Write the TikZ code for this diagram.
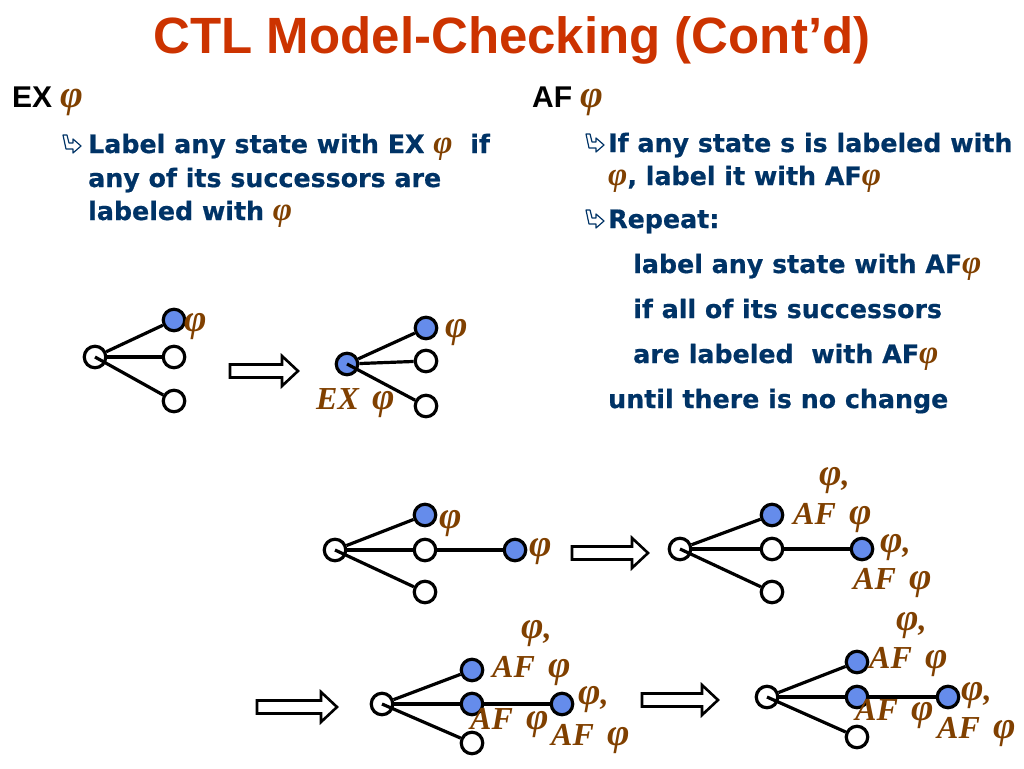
\documentclass[tikz,border=0pt]{standalone}
\usepackage{fontspec}
\setmainfont{Liberation Sans}
\newfontfamily\bodyfont{DejaVu Sans}[BoldFeatures={FakeBold=0.6}]
\newfontfamily\phifont{Liberation Serif}
\definecolor{titlered}{HTML}{CC3300}
\definecolor{navy}{HTML}{003366}
\definecolor{phibrown}{HTML}{804000}
\definecolor{nodeblue}{HTML}{658CEB}
\newcommand\ph{{\phifont\bfseries\itshape\color{phibrown}\scalebox{1.3}{φ}}}
\newcommand\lph{\scalebox{1.2}{φ}}
\newcommand\hookbullet[2]{\draw[navy,line width=1.2pt,line join=round,shift={(#1,#2)}]
  (0,0) -- (4,0) -- (6,8) -- (10,8) -- (10,4) -- (18,11) -- (10,18) -- (10,14) -- (3,14) -- cycle;}
\newcommand\fatarrow[3]{\draw[bigarrow] (#1,#3-6.5) -- (#2-16,#3-6.5) -- (#2-16,#3-15) -- (#2,#3)
  -- (#2-16,#3+15) -- (#2-16,#3+6.5) -- (#1,#3+6.5) -- cycle;}
\tikzset{
  st/.style={circle,draw,line width=3.2pt,minimum size=21.5pt,inner sep=0pt,fill=white},
  bl/.style={st,fill=nodeblue},
  edge/.style={line width=3.2pt},
  lab/.style={text=phibrown,font=\fontsize{32}{32}\selectfont\phifont\bfseries\itshape,inner sep=0pt,anchor=west},
  body/.style={text=navy,font=\fontsize{25.3}{30}\selectfont\bodyfont\bfseries,anchor=base west,inner sep=0pt},
  head/.style={font=\fontsize{30}{30}\selectfont\bfseries,anchor=base west,inner sep=0pt},
  bigarrow/.style={draw,line width=2.6pt,fill=white,line join=miter},
}
\begin{document}
\begin{tikzpicture}[x=1pt,y=-1pt]
\useasboundingbox (0,0) rectangle (1024,768);
% title
\node[anchor=base,text=titlered,font=\fontsize{51}{56}\selectfont\bfseries,inner sep=0pt] (title) at (512,54) {CTL Model-Checking (Cont’d)};
% headers
\node[head] (hex) at (12,107) {EX \ph};
\node[head] (haf) at (532,107) {AF \ph};
% left body
\hookbullet{63}{135}
\node[body] (l1) at (88,153) {Label any state with EX \ph\ \ if};
\node[body] (l2) at (88,187) {any of its successors are};
\node[body] (l3) at (88,220) {labeled with \ph};
% right body
\hookbullet{586}{134}
\node[body] (r1) at (608,152) {If any state s is labeled with};
\node[body] (r2) at (608,185) {\ph, label it with AF\ph};
\hookbullet{586}{210}
\node[body] (r3) at (608,228) {Repeat:};
\node[body] (r4) at (633,273) {label any state with AF\ph};
\node[body] (r5) at (633,318) {if all of its successors};
\node[body] (r6) at (633,363) {are labeled\ \ with AF\ph};
\node[body] (r7) at (608,408) {until there is no change};
% tree 1
\node[st] (a0) at (95,357) {};
\node[bl] (a1) at (174,320) {};
\node[st] (a2) at (174,357) {};
\node[st] (a3) at (174,401) {};
\draw[edge] (a0) -- (a1); \draw[edge] (a0) -- (a2); \draw[edge] (a0.center) -- (a3);
\node[lab] (a1l) at (184,327) {\lph};
\fatarrow{230}{298}{371}
% tree 2
\node[bl] (b0) at (347,364) {};
\node[bl] (b1) at (426,328) {};
\node[st] (b2) at (426,361) {};
\node[st] (b3) at (426,406) {};
\draw[edge] (b0) -- (b1); \draw[edge] (b0) -- (b2); \draw[edge] (b0.center) -- (b3);
\node[lab] (b1l) at (445,333) {\lph};
\node[lab] (b0l) at (316,403) {EX \,\lph};
% tree 3
\node[st] (c0) at (335,550) {};
\node[bl] (c1) at (425,515) {};
\node[st] (c2) at (425,550) {};
\node[st] (c3) at (425,592) {};
\node[bl] (c4) at (515,550) {};
\draw[edge] (c0) -- (c1); \draw[edge] (c0) -- (c2); \draw[edge] (c0.center) -- (c3); \draw[edge] (c2) -- (c4);
\node[lab] (c1l) at (439,524) {\lph};
\node[lab] (c4l) at (529,552) {\lph};
\fatarrow{572}{648}{553}
% tree 4
\node[st] (d0) at (680,549) {};
\node[bl] (d1) at (772,515) {};
\node[st] (d2) at (772,549) {};
\node[st] (d3) at (772,592) {};
\node[bl] (d4) at (862,549) {};
\draw[edge] (d0) -- (d1); \draw[edge] (d0) -- (d2); \draw[edge] (d0.center) -- (d3); \draw[edge] (d2) -- (d4);
\node[lab] (d1a) at (819,481) {\lph,};
\node[lab] (d1b) at (793,518) {AF \,\lph};
\node[lab] (d4a) at (880,548) {\lph,};
\node[lab] (d4b) at (853,583) {AF \,\lph};
\fatarrow{257}{337}{707}
% tree 5
\node[st] (e0) at (382,704) {};
\node[bl] (e1) at (472,670) {};
\node[bl] (e2) at (472,704) {};
\node[st] (e3) at (472,743) {};
\node[bl] (e4) at (562,704) {};
\draw[edge] (e0) -- (e1); \draw[edge] (e0) -- (e2); \draw[edge] (e0.center) -- (e3); \draw[edge] (e2) -- (e4);
\node[lab] (e1a) at (521,634) {\lph,};
\node[lab] (e1b) at (492,671) {AF \,\lph};
\node[lab] (e2b) at (470,723) {AF \,\lph};
\node[lab] (e4a) at (578,700) {\lph,};
\node[lab] (e4b) at (551,739) {AF \,\lph};
\fatarrow{642}{718}{700}
% tree 6
\node[st] (f0) at (767,697) {};
\node[bl] (f1) at (857,662) {};
\node[bl] (f2) at (857,697) {};
\node[st] (f3) at (857,737) {};
\node[bl] (f4) at (948,697) {};
\draw[edge] (f0) -- (f1); \draw[edge] (f0) -- (f2); \draw[edge] (f0.center) -- (f3); \draw[edge] (f2) -- (f4);
\node[lab] (f1a) at (896,626) {\lph,};
\node[lab] (f1b) at (869,662) {AF \,\lph};
\node[lab] (f2b) at (855,714) {AF \,\lph};
\node[lab] (f4a) at (961,696) {\lph,};
\node[lab] (f4b) at (937,732) {AF \,\lph};
\end{tikzpicture}
\end{document}
